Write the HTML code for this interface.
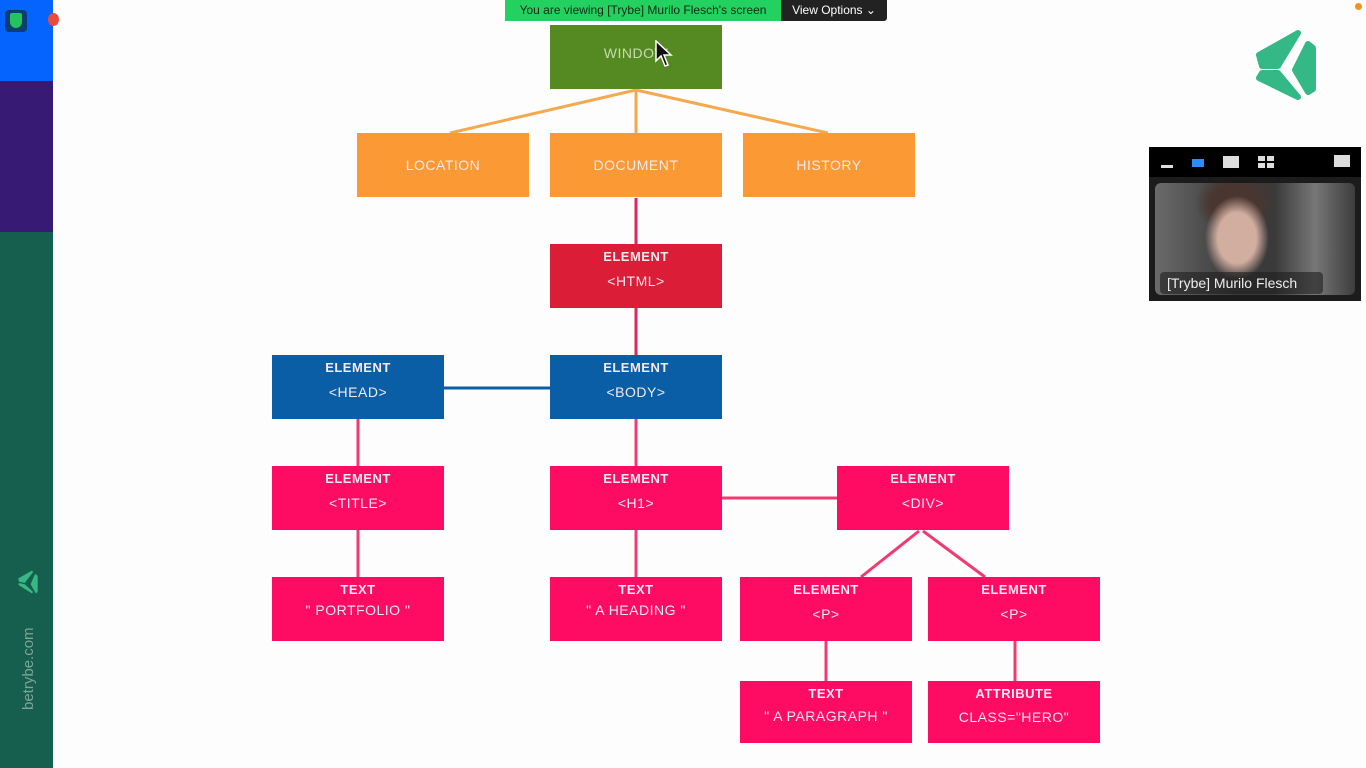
<!DOCTYPE html>
<html><head><meta charset="utf-8"><style>
body{margin:0;width:1366px;height:768px;overflow:hidden;background:#fdfdfe;position:relative;font-family:"Liberation Sans",sans-serif}
.a{position:absolute}
.b{position:absolute;width:172px;height:64px;color:#f4e9ee;text-align:center;font-size:14px;letter-spacing:0.5px}
.b .t{position:absolute;left:0;right:0;top:5px;font-weight:bold;font-size:13px}
.b .s{position:absolute;left:0;right:0;top:29px}
.b .c{position:absolute;left:0;right:0;top:24px}
.o{background:#fb9a35}.g{background:#558a22}.r{background:#dc1d37}.bl{background:#0a5ea5}.p{background:#fe0b63}
</style></head><body>
<div class="a" style="left:0;top:0;width:53px;height:81px;background:#0564fe"></div>
<div class="a" style="left:0;top:81px;width:53px;height:151px;background:#361a73"></div>
<div class="a" style="left:0;top:232px;width:53px;height:536px;background:#165e4d"></div>
<div class="a" style="left:5px;top:10px;width:22px;height:22px;background:#0c3d73;border-radius:4px"></div>
<div class="a" style="left:10px;top:13px;width:12px;height:15px;background:#24c35e;border-radius:2px 2px 6px 6px"></div>
<div class="a" style="left:48px;top:13px;width:11px;height:13px;background:#e74c3c;border-radius:50%"></div>
<svg class="a" style="left:16px;top:570px" width="24" height="24" viewBox="0 0 64 74"><g fill="#35b884"><polygon points="2,26 44,2 48,6 22,40 4,36"/><polygon points="4,40 22,44 48,68 44,72 2,46"/><polygon points="54,12 62,18 62,68 56,72 40,44"/></g></svg>
<div class="a" style="left:20px;top:710px;transform:rotate(-90deg);transform-origin:0 0;color:#7ea597;font-size:15px;white-space:nowrap">betrybe.com</div>

<div class="a" style="left:505px;top:0;width:276px;height:21px;background:#23d160;color:#0b2a12;font-size:12px;line-height:21px;text-align:center">You are viewing [Trybe] Murilo Flesch's screen</div>
<div class="a" style="left:781px;top:0;width:106px;height:21px;background:#222;color:#fff;font-size:12px;line-height:21px;text-align:center;border-radius:0 0 3px 0">View Options &#8964;</div>
<div class="a" style="left:1355px;top:3px;width:7px;height:7px;border-radius:50%;background:#f39220"></div>

<svg class="a" style="left:1254px;top:28px" width="64" height="74" viewBox="0 0 64 74">
<g fill="#34b986" stroke="#34b986" stroke-width="6" stroke-linejoin="round">
<polygon points="5,27 44,5 24,38 8,38"/>
<polygon points="8,45 24,45 44,69 5,50"/>
<polygon points="54,16 59,20 59,61 54,64 41,42"/>
</g></svg>

<div class="a" style="left:1149px;top:147px;width:212px;height:154px;background:#000"></div>
<div class="a" style="left:1161px;top:165px;width:12px;height:3px;background:#ddd"></div>
<div class="a" style="left:1192px;top:159px;width:12px;height:8px;background:#2b8cff"></div>
<div class="a" style="left:1223px;top:156px;width:16px;height:12px;background:#ddd"></div>
<div class="a" style="left:1258px;top:156px;width:16px;height:12px;background:linear-gradient(#ddd,#ddd) 0 0/7px 5px no-repeat,linear-gradient(#ddd,#ddd) 9px 0/7px 5px no-repeat,linear-gradient(#ddd,#ddd) 0 7px/7px 5px no-repeat,linear-gradient(#ddd,#ddd) 9px 7px/7px 5px no-repeat"></div>
<div class="a" style="left:1334px;top:155px;width:16px;height:12px;background:#ddd"></div>
<div class="a" style="left:1149px;top:177px;width:212px;height:124px;background:#1c1c1c"></div>
<div class="a" style="left:1155px;top:183px;width:200px;height:112px;border-radius:6px;background:radial-gradient(ellipse 32px 42px at 82px 55px,#d2aea0 60%,transparent 100%),radial-gradient(ellipse 40px 30px at 80px 20px,#4a3630 60%,transparent 100%),linear-gradient(90deg,#6a6a6a,#3a3a3a 40%,#3a3a3a 60%,#777 80%,#3d3d3d)"></div>
<div class="a" style="left:1160px;top:272px;width:156px;height:22px;background:rgba(30,30,30,.6);border-radius:4px;color:#eee;font-size:14px;line-height:22px;padding-left:7px">[Trybe] Murilo Flesch</div>

<svg class="a" style="left:0;top:0" width="1366" height="768">
<g stroke="#f5a94f" stroke-width="3" fill="none"><line x1="636" y1="90" x2="450" y2="133"/><line x1="636" y1="90" x2="636" y2="133"/><line x1="636" y1="90" x2="828" y2="133"/></g>
<g stroke="#e5245a" stroke-width="3"><line x1="636" y1="198" x2="636" y2="244"/><line x1="636" y1="308" x2="636" y2="355"/></g>
<line x1="444" y1="388" x2="550" y2="388" stroke="#0a5ea5" stroke-width="3"/>
<g stroke="#f23a72" stroke-width="3"><line x1="358" y1="419" x2="358" y2="466"/><line x1="636" y1="419" x2="636" y2="466"/><line x1="358" y1="530" x2="358" y2="577"/><line x1="636" y1="530" x2="636" y2="577"/><line x1="722" y1="498" x2="837" y2="498"/><line x1="919" y1="531" x2="861" y2="577"/><line x1="923" y1="531" x2="985" y2="577"/><line x1="826" y1="641" x2="826" y2="681"/><line x1="1015" y1="641" x2="1015" y2="681"/></g>
</svg>

<div class="b g" style="left:550px;top:25px"><div class="c" style="color:#c5dcae;top:20px">WINDOW</div></div>
<div class="b o" style="left:357px;top:133px"><div class="c">LOCATION</div></div>
<div class="b o" style="left:550px;top:133px"><div class="c">DOCUMENT</div></div>
<div class="b o" style="left:743px;top:133px"><div class="c">HISTORY</div></div>
<div class="b r" style="left:550px;top:244px"><div class="t">ELEMENT</div><div class="s">&lt;HTML&gt;</div></div>
<div class="b bl" style="left:272px;top:355px"><div class="t">ELEMENT</div><div class="s">&lt;HEAD&gt;</div></div>
<div class="b bl" style="left:550px;top:355px"><div class="t">ELEMENT</div><div class="s">&lt;BODY&gt;</div></div>
<div class="b p" style="left:272px;top:466px"><div class="t">ELEMENT</div><div class="s">&lt;TITLE&gt;</div></div>
<div class="b p" style="left:550px;top:466px"><div class="t">ELEMENT</div><div class="s">&lt;H1&gt;</div></div>
<div class="b p" style="left:837px;top:466px"><div class="t">ELEMENT</div><div class="s">&lt;DIV&gt;</div></div>
<div class="b p" style="left:272px;top:577px"><div class="t">TEXT</div><div class="s" style="top:25px">" PORTFOLIO "</div></div>
<div class="b p" style="left:550px;top:577px"><div class="t">TEXT</div><div class="s" style="top:25px">" A HEADING "</div></div>
<div class="b p" style="left:740px;top:577px"><div class="t">ELEMENT</div><div class="s">&lt;P&gt;</div></div>
<div class="b p" style="left:928px;top:577px"><div class="t">ELEMENT</div><div class="s">&lt;P&gt;</div></div>
<div class="b p" style="left:740px;top:681px;height:62px"><div class="t">TEXT</div><div class="s" style="top:27px">" A PARAGRAPH "</div></div>
<div class="b p" style="left:928px;top:681px;height:62px"><div class="t">ATTRIBUTE</div><div class="s" style="top:28px">CLASS="HERO"</div></div>

<svg class="a" style="left:655px;top:40px" width="18" height="28" viewBox="0 0 18 28"><polygon points="1,1 1,21 6,16 10,26 13,25 9,15 16,15" fill="#111" stroke="#fff" stroke-width="1.5"/></svg>
</body></html>
